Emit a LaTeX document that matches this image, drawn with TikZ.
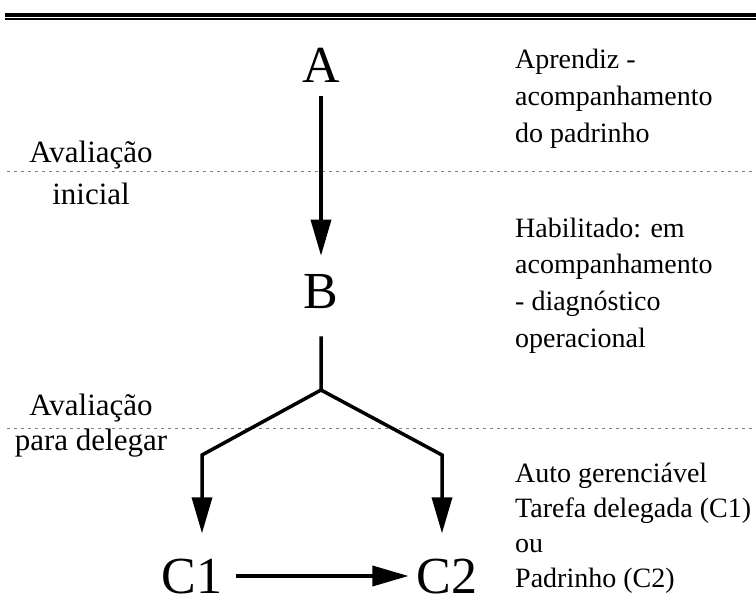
\documentclass[tikz,border=0pt]{standalone}
\usepackage{fontspec}
\setmainfont{Liberation Serif}
\usetikzlibrary{arrows.meta}

\tikzset{
  big/.style={font=\fontsize{52}{52}\selectfont, inner sep=0pt, anchor=base},
  note/.style={font=\fontsize{28}{37}\selectfont, align=left, inner sep=0pt, anchor=base west},
  side/.style={font=\fontsize{31}{35}\selectfont, align=center, inner sep=0pt, anchor=base},
  link/.style={line width=3.5pt},
  arr/.style={link, -{Triangle[length=36pt,width=20pt]}},
  dots/.style={gray, line width=1pt, dash pattern=on 2.5pt off 4.5pt}
}

\begin{document}
\begin{tikzpicture}[x=1pt,y=-1pt]
  \useasboundingbox (0,0) rectangle (756,596);

  \draw[line width=3.5pt] (5,15) -- (756,15);
  \draw[line width=1.5pt] (5,19) -- (756,19);
  \draw[dots] (7,172) -- (756,172);
  \draw[dots] (7,428) -- (756,428);

  \node[big] (a) at (321,83) {A};
  \node[big] (b) at (321,309) {B};
  \node[big] (c1) at (192,593) {C1};
  \node[big] (c2) at (447,593) {C2};

  \coordinate (j) at (321,390);
  \coordinate (l) at (202,455);
  \coordinate (r) at (442,455);

  \draw[arr, shorten <=13pt, shorten >=19pt] (a.south) -- (a.south |- b.north);
  \draw[arr, shorten <=27pt, shorten >=25pt] (b.south) -- (j) -- (l) -- (l |- c1.north);
  \draw[arr, shorten >=25pt] (j) -- (r) -- (r |- c2.north);
  \draw[arr, shorten <=13pt, shorten >=8pt] ([yshift=17pt]c1.base east) -- ([yshift=17pt]c2.base west);

  \node[note] (t1) at (515,143) {Aprendiz -\\acompanhamento\\do padrinho};
  \node[note] (t2) at (515,348) {Habilitado: em\\acompanhamento\\- diagnóstico\\operacional};
  \node[note, font=\fontsize{28}{35}\selectfont] (t3) at (515,587) {Auto gerenciável\\Tarefa delegada (C1)\\ou\\Padrinho (C2)};

  \node[side] (e1) at (91,205) {Avaliação\\[7pt]inicial};
  \node[side] (e2) at (91,450) {Avaliação\\para delegar};

\end{tikzpicture}
\end{document}
